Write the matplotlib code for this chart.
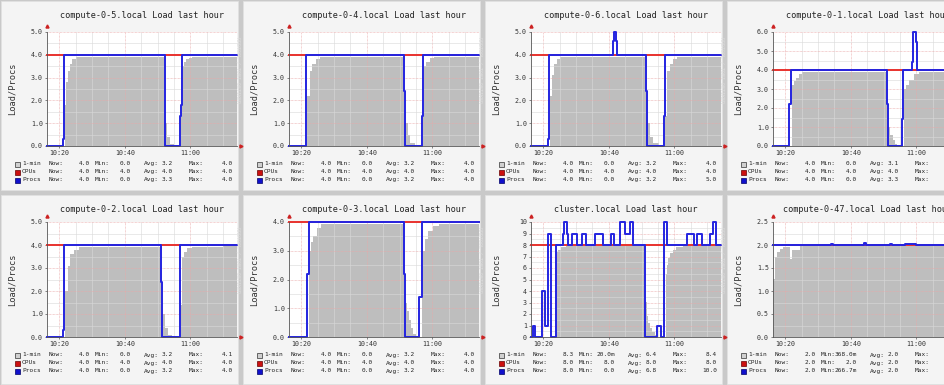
import matplotlib.pyplot as plt
from matplotlib.patches import Rectangle
from matplotlib.ticker import MultipleLocator, FixedLocator

plt.rcParams['font.family'] = ['DejaVu Sans Mono']

W, H = 945, 385
XMIN, XMAX = 16.3, 74.2          # minutes after 10:00
xtick_pos = [20, 40, 60]
xtick_lab = ['10:20', '10:40', '11:00']
legend_names = ['1-min', 'CPUs', 'Procs']

# ---------------- data ----------------
# compute-0-5
c05_procs_t = [16.3, 21.3, 21.5, 52.2, 52.4, 56.9, 57.1, 57.3]
c05_procs = [0, 0.3, 4.0, 2.4, 0.0, 1.3, 1.8, 4.0]
c05_load_t = [16.3, 21.8, 22.2, 22.6, 23.2, 24.0, 25.0, 52.3, 53.0, 53.7, 55.0,
              57.2, 57.4, 57.9, 58.6, 59.6, 60.6]
c05_load = [0, 1.8, 2.8, 3.3, 3.6, 3.8, 3.92, 1.0, 0.4, 0.1, 0.0,
            1.3, 3.5, 3.7, 3.8, 3.85, 3.92]
c05_cpus = 4.0
c05_stats = [['4.0', '0.0', '3.2', '4.0'], ['4.0', '4.0', '4.0', '4.0'], ['4.0', '0.0', '3.3', '4.0']]

# compute-0-4
c04_procs_t = [16.3, 21.4, 21.6, 51.3, 51.5, 56.8, 57.0]
c04_procs = [0, 0.3, 4.0, 2.4, 0.0, 1.3, 4.0]
c04_load_t = [16.3, 21.9, 22.6, 23.4, 24.4, 25.6, 51.4, 52.6, 53.3, 54.6,
              57.1, 57.4, 58.2, 59.2, 60.5]
c04_load = [0, 2.2, 3.3, 3.6, 3.8, 3.92, 1.0, 0.5, 0.15, 0.0,
            1.3, 3.5, 3.7, 3.85, 3.92]
c04_cpus = 4.0
c04_stats = [['4.0', '0.0', '3.2', '4.0'], ['4.0', '4.0', '4.0', '4.0'], ['4.0', '0.0', '3.2', '4.0']]

# compute-0-6
c06_procs_t = [16.3, 21.6, 21.8, 41.3, 41.6, 42.3, 42.5, 51.2, 51.6, 56.9, 57.1]
c06_procs = [0, 0.3, 4.0, 4.6, 5.0, 4.6, 4.0, 2.4, 0.0, 1.3, 4.0]
c06_load_t = [16.3, 22.2, 22.8, 23.4, 24.2, 25.2, 51.3, 52.7, 53.5, 55.2,
              57.2, 57.8, 58.6, 59.6, 60.8]
c06_load = [0, 2.2, 3.1, 3.6, 3.8, 3.92, 1.0, 0.4, 0.15, 0.0,
            1.3, 3.3, 3.6, 3.8, 3.92]
c06_cpus = 4.0
c06_stats = [['4.0', '0.0', '3.2', '4.0'], ['4.0', '4.0', '4.0', '4.0'], ['4.0', '0.0', '3.2', '5.0']]

# compute-0-1
c01_procs_t = [16.3, 21.2, 21.9, 51.0, 51.3, 55.6, 55.9, 58.6, 59.1, 59.8, 60.3]
c01_procs = [0, 2.2, 4.0, 2.2, 0.0, 1.4, 4.0, 4.4, 6.0, 5.5, 4.0]
c01_load_t = [16.3, 22.2, 22.6, 23.2, 24.2, 25.2, 51.1, 52.0, 52.8, 53.6, 54.2,
              56.3, 56.7, 57.7, 59.3, 60.8]
c01_load = [0, 3.2, 3.4, 3.6, 3.8, 3.92, 1.0, 0.6, 0.3, 0.1, 0.0,
            3.0, 3.2, 3.5, 3.8, 3.92]
c01_cpus = 4.0
c01_stats = [['4.0', '0.0', '3.1', '4.0'], ['4.0', '4.0', '4.0', '4.0'], ['4.0', '0.0', '3.3', '6.0']]

# compute-0-2
c02_procs_t = [16.3, 21.3, 21.5, 51.1, 51.3, 56.7, 56.9]
c02_procs = [0, 0.3, 4.0, 2.4, 0.0, 1.3, 4.0]
c02_load_t = [16.3, 21.9, 22.6, 23.4, 24.4, 25.9, 51.2, 52.4, 53.1, 54.4,
              57.0, 57.3, 58.1, 59.0, 60.5, 70.0, 70.6]
c02_load = [0, 2.0, 3.1, 3.6, 3.8, 3.92, 1.0, 0.4, 0.1, 0.0,
            1.4, 3.5, 3.7, 3.85, 3.92, 4.05, 3.95]
c02_cpus = 4.0
c02_stats = [['4.0', '0.0', '3.2', '4.1'], ['4.0', '4.0', '4.0', '4.0'], ['4.0', '0.0', '3.2', '4.0']]

# compute-0-3
c03_procs_t = [16.3, 21.8, 22.4, 51.3, 51.8, 56.0, 56.7]
c03_procs = [0, 2.2, 4.0, 2.2, 0.0, 1.4, 4.0]
c03_load_t = [16.3, 22.5, 22.9, 23.7, 24.8, 26.1, 51.4, 51.8, 52.4, 53.0, 53.6, 54.2, 55.0,
              56.8, 57.1, 57.7, 58.7, 60.2, 62.0]
c03_load = [0, 3.0, 3.3, 3.5, 3.8, 3.92, 1.6, 1.2, 0.9, 0.6, 0.3, 0.1, 0.0,
            2.5, 3.0, 3.4, 3.7, 3.85, 3.92]
c03_cpus = 4.0
c03_stats = [['4.0', '0.0', '3.2', '4.0'], ['4.0', '4.0', '4.0', '4.0'], ['4.0', '0.0', '3.2', '4.0']]

# cluster
cl_procs_t = [16.3, 16.8, 17.6, 19.6, 20.6, 21.4, 22.4, 23.8, 26.0, 26.3, 27.2, 27.5,
              28.8, 30.3, 31.8, 33.2, 35.9, 38.3, 40.8, 41.7, 43.5, 44.8, 46.4, 47.4,
              51.0, 54.7, 56.0, 56.7, 57.8, 63.9, 65.9, 66.9, 68.4, 71.0, 71.7, 72.7]
cl_procs = [0, 1, 0, 4, 1, 9, 0, 8, 9, 10, 9, 8,
            9, 8, 9, 8, 9, 8, 9, 8, 10, 9, 10, 8,
            0, 1, 0, 10, 8, 9, 8, 9, 8, 9, 10, 8]
cl_load_t = [16.3, 23.9, 24.6, 25.5, 27.0, 51.0, 51.5, 52.0, 52.5, 53.2, 54.0, 54.7,
             57.3, 57.6, 58.0, 58.7, 59.5, 60.5, 62.5, 70.0]
cl_load = [0, 7.4, 7.6, 7.8, 7.9, 3.0, 1.8, 1.2, 0.8, 0.4, 0.15, 0.0,
           5.5, 6.3, 6.9, 7.3, 7.6, 7.8, 7.95, 8.1]
cl_cpus = 8.0
cl_stats = [['8.3', '20.0m', '6.4', '8.4'], ['8.0', '8.0', '8.0', '8.0'], ['8.0', '0.0', '6.8', '10.0']]

# compute-0-47
c47_procs_t = [16.3, 34.0, 34.6, 44.0, 44.6, 52.0, 52.6, 56.5, 60.0, 69.0, 69.6]
c47_procs = [2.0, 2.03, 2.0, 2.04, 2.0, 2.03, 2.0, 2.02, 2.0, 2.03, 2.0]
c47_load_t = [16.3, 16.9, 17.6, 18.4, 19.4, 21.5, 22.2, 24.4]
c47_load = [1.25, 1.75, 1.85, 1.92, 1.95, 1.7, 1.9, 1.97]
c47_cpus = 2.0
c47_stats = [['2.0', '368.0m', '2.0', '2.0'], ['2.0', '2.0', '2.0', '2.0'], ['2.0', '266.7m', '2.0', '2.0']]

# ---------------- drawing ----------------
fig = plt.figure(figsize=(9.45, 3.85), dpi=100, facecolor='#c9c9c9')

col_left = [0, 242, 484, 726]
row_top = [0, 194]
plot_top = [32, 222]
plot_bot = [146, 337]
LEG_FS = 4.4


def fx(x):
    return x / W


def fy(y):
    return 1 - y / H


def panel(col, row, title, ymax, ystep, fmt, load_t, load, procs_t, procs, cpus, stats):
    pl, pt = col_left[col], row_top[row]
    fig.patches.append(Rectangle((fx(pl + 1), fy(pt + 190)), 237 / W, 189 / H,
                                 transform=fig.transFigure, facecolor='#f4f4f4',
                                 edgecolor='#e2e2e2', lw=0.5, zorder=-5))
    ax_l = pl + 47
    top, bot = plot_top[row], plot_bot[row]
    ax = fig.add_axes([fx(ax_l), fy(bot), 190 / W, (bot - top) / H])
    ax.set_facecolor('white')

    lt = load_t + [XMAX]
    lv = load + [load[-1]]
    ax.fill_between(lt, lv, step='post', color='#bebebe', lw=0, zorder=2)
    ax.plot([XMIN, XMAX], [cpus, cpus], color='#e8322e', lw=1.4, zorder=3, clip_on=False)
    ax.step(procs_t + [XMAX], procs + [procs[-1]], where='post', color='#2424e0',
            lw=1.4, zorder=4, clip_on=False)

    ax.set_xlim(XMIN, XMAX)
    ax.set_ylim(0, ymax)
    ax.xaxis.set_major_locator(FixedLocator(xtick_pos))
    ax.set_xticklabels(xtick_lab)
    ax.xaxis.set_minor_locator(MultipleLocator(5))
    ax.yaxis.set_major_locator(MultipleLocator(ystep))
    ax.yaxis.set_minor_locator(MultipleLocator(ystep / 2))
    ax.yaxis.set_major_formatter(fmt)
    ax.grid(which='major', color='#eaa8a8', lw=0.5, ls=(0, (1, 1)), zorder=5)
    ax.grid(which='minor', color='#d9d9d9', lw=0.4, ls='-', zorder=5)
    ax.set_axisbelow(False)
    ax.tick_params(which='major', length=1.5, width=0.5, labelsize=4.8, pad=1.5,
                   labelcolor='#333333', color='#555555')
    ax.tick_params(which='minor', length=0)
    for s in ['top', 'right']:
        ax.spines[s].set_visible(False)
    for s in ['left', 'bottom']:
        ax.spines[s].set_color('#555555')
        ax.spines[s].set_linewidth(0.6)
        ax.spines[s].set_zorder(6)
    ax.plot(0, 1.05, marker='^', ms=2.2, color='#cc2222', transform=ax.transAxes, clip_on=False)
    ax.plot(1.02, 0, marker='>', ms=2.2, color='#cc2222', transform=ax.transAxes, clip_on=False)

    fig.text(fx(ax_l + 95), fy(pt + 16), title, ha='center', va='center', fontsize=6.1,
             color='#222222')
    fig.text(fx(pl + 12), fy((top + bot) / 2), 'Load/Procs', rotation=90, ha='center',
             va='center', fontsize=6.2, color='#333333')
    fig.text(fx(pl + 238), fy(top + 38), 'RRDTOOL / TOBI OETIKER', rotation=270,
             ha='center', va='center', fontsize=3.6, color='#dcdcdc')

    sq_col = ['#d0d0d0', '#cc1010', '#1010cc']
    sq_edge = ['#333333', '#660000', '#000066']
    base = pt + 164 if row == 0 else 355
    for i in range(3):
        y = base + 8 * i
        fig.patches.append(Rectangle((fx(pl + 15), fy(y + 2.5)), 5 / W, 5 / H,
                                     transform=fig.transFigure, facecolor=sq_col[i],
                                     edgecolor=sq_edge[i], lw=0.5, zorder=3))
        fig.text(fx(pl + 22), fy(y), legend_names[i], ha='left', va='center',
                 fontsize=LEG_FS, color='#222222')
        for lab, lx, vx, val in zip(['Now:', 'Min:', 'Avg:', 'Max:'], [49, 95, 144, 189],
                                   [90, 131, 173, 233], stats[i]):
            fig.text(fx(pl + lx), fy(y), lab, ha='left', va='center', fontsize=LEG_FS,
                     color='#222222')
            fig.text(fx(pl + vx), fy(y), val, ha='right', va='center', fontsize=LEG_FS,
                     color='#222222')


f1 = '{x:.1f}'
fint = '{x:.0f}'
panel(0, 0, 'compute-0-5.local Load last hour', 5, 1, f1, c05_load_t, c05_load,
      c05_procs_t, c05_procs, c05_cpus, c05_stats)
panel(1, 0, 'compute-0-4.local Load last hour', 5, 1, f1, c04_load_t, c04_load,
      c04_procs_t, c04_procs, c04_cpus, c04_stats)
panel(2, 0, 'compute-0-6.local Load last hour', 5, 1, f1, c06_load_t, c06_load,
      c06_procs_t, c06_procs, c06_cpus, c06_stats)
panel(3, 0, 'compute-0-1.local Load last hour', 6, 1, f1, c01_load_t, c01_load,
      c01_procs_t, c01_procs, c01_cpus, c01_stats)
panel(0, 1, 'compute-0-2.local Load last hour', 5, 1, f1, c02_load_t, c02_load,
      c02_procs_t, c02_procs, c02_cpus, c02_stats)
panel(1, 1, 'compute-0-3.local Load last hour', 4, 1, f1, c03_load_t, c03_load,
      c03_procs_t, c03_procs, c03_cpus, c03_stats)
panel(2, 1, 'cluster.local Load last hour', 10, 1, fint, cl_load_t, cl_load,
      cl_procs_t, cl_procs, cl_cpus, cl_stats)
panel(3, 1, 'compute-0-47.local Load last hour', 2.5, 0.5, f1, c47_load_t, c47_load,
      c47_procs_t, c47_procs, c47_cpus, c47_stats)

fig.savefig('out.png', dpi=100, facecolor=fig.get_facecolor())
